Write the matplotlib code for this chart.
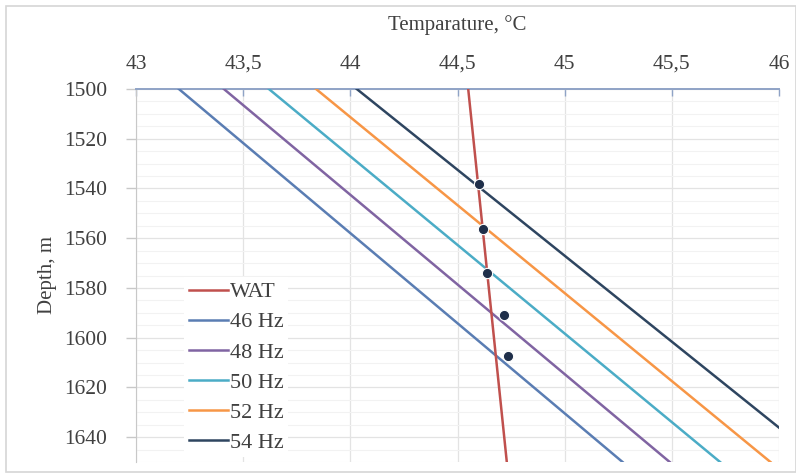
import matplotlib
matplotlib.use("Agg")
import matplotlib.pyplot as plt
from matplotlib.patches import Rectangle
from matplotlib.ticker import MultipleLocator, FuncFormatter

# Depth range of the modelled profiles, m
depth = [1500, 1650]

# Wax appearance temperature along the well, °C
wat_temp = [44.55, 44.73]

# Fluid temperature profiles for each pump frequency, °C
freq_labels = ["46 Hz", "48 Hz", "50 Hz", "52 Hz", "54 Hz"]
temp_46 = [43.20, 45.27]
temp_48 = [43.41, 45.49]
temp_50 = [43.62, 45.725]
temp_52 = [43.84, 45.96]
temp_54 = [44.03, 46.20]

# Points where wax starts to precipitate
cross_temp = [44.602, 44.618, 44.636, 44.718, 44.737]
cross_depth = [1538.1, 1556.2, 1573.9, 1590.7, 1607.5]

x_ticks = [43, 43.5, 44, 44.5, 45, 45.5, 46]
y_ticks = [1500, 1520, 1540, 1560, 1580, 1600, 1620, 1640]

colors = {
    "WAT": "#c0504d",
    "46 Hz": "#5a7db3",
    "48 Hz": "#8064a2",
    "50 Hz": "#4bacc6",
    "52 Hz": "#f79646",
    "54 Hz": "#2e4560",
}

plt.rcParams["font.family"] = ["Liberation Serif", "DejaVu Serif"]
FS = 15.5
TXT = "#404040"

fig = plt.figure(figsize=(7.96, 4.75), dpi=100)
ax = fig.add_axes([136 / 796, 1 - 462 / 475, (779 - 136) / 796, (462 - 89) / 475])

lw = 1.8
ax.plot(wat_temp, depth, color=colors["WAT"], lw=lw, label="WAT", zorder=4)
for lab, t in zip(freq_labels, [temp_46, temp_48, temp_50, temp_52, temp_54]):
    ax.plot(t, depth, color=colors[lab], lw=lw, label=lab, zorder=3)

ax.scatter(cross_temp, cross_depth, s=55, color="#1f2f4a", edgecolor="white",
           linewidth=0.8, zorder=6)

ax.set_xlim(43, 46)
ax.set_ylim(1650, 1500)

ax.xaxis.tick_top()
ax.xaxis.set_label_position("top")
ax.set_xticks(x_ticks)
ax.xaxis.set_major_formatter(FuncFormatter(lambda v, p: f"{v:g}".replace(".", ",")))
ax.set_yticks(y_ticks)
ax.yaxis.set_minor_locator(MultipleLocator(5))

ax.grid(which="major", color="#e3e3e3", lw=0.9)
ax.grid(which="minor", axis="y", color="#f2f2f2", lw=0.8)
ax.set_axisbelow(True)

ax.tick_params(axis="x", which="major", direction="in", length=5, width=1,
               color="#8fa3c6", labelsize=FS, labelcolor=TXT, pad=11)
ax.tick_params(axis="y", which="major", direction="out", length=7, width=1,
               color="#c8c8c8", labelsize=FS, labelcolor=TXT, pad=14)
ax.tick_params(which="minor", length=0)

for side in ["right", "bottom"]:
    ax.spines[side].set_visible(False)
ax.spines["top"].set_color("#8fa3c6")
ax.spines["top"].set_linewidth(1.4)
ax.spines["left"].set_color("#c8c8c8")

ax.set_xlabel("Temparature, °C", fontsize=FS - 0.5, color=TXT, labelpad=18)
ax.set_ylabel("Depth, m", fontsize=FS - 0.5, color=TXT, labelpad=5)

leg = ax.legend(loc="upper left", bbox_to_anchor=(0.058, 0.525), fontsize=FS + 0.5,
                frameon=True, facecolor="white", edgecolor="none", framealpha=1,
                handlelength=1.75, handletextpad=0.1, labelspacing=0.43,
                borderpad=0.2, fancybox=False)
for t in leg.get_texts():
    t.set_color(TXT)

fig.patches.append(Rectangle((6 / 796, 1 - 472 / 475), (796 - 6) / 796, (472 - 6) / 475,
                             transform=fig.transFigure, fill=False,
                             edgecolor="#d6d6d6", lw=1.2, zorder=0))

fig.savefig("out.png", dpi=100, facecolor="white")
